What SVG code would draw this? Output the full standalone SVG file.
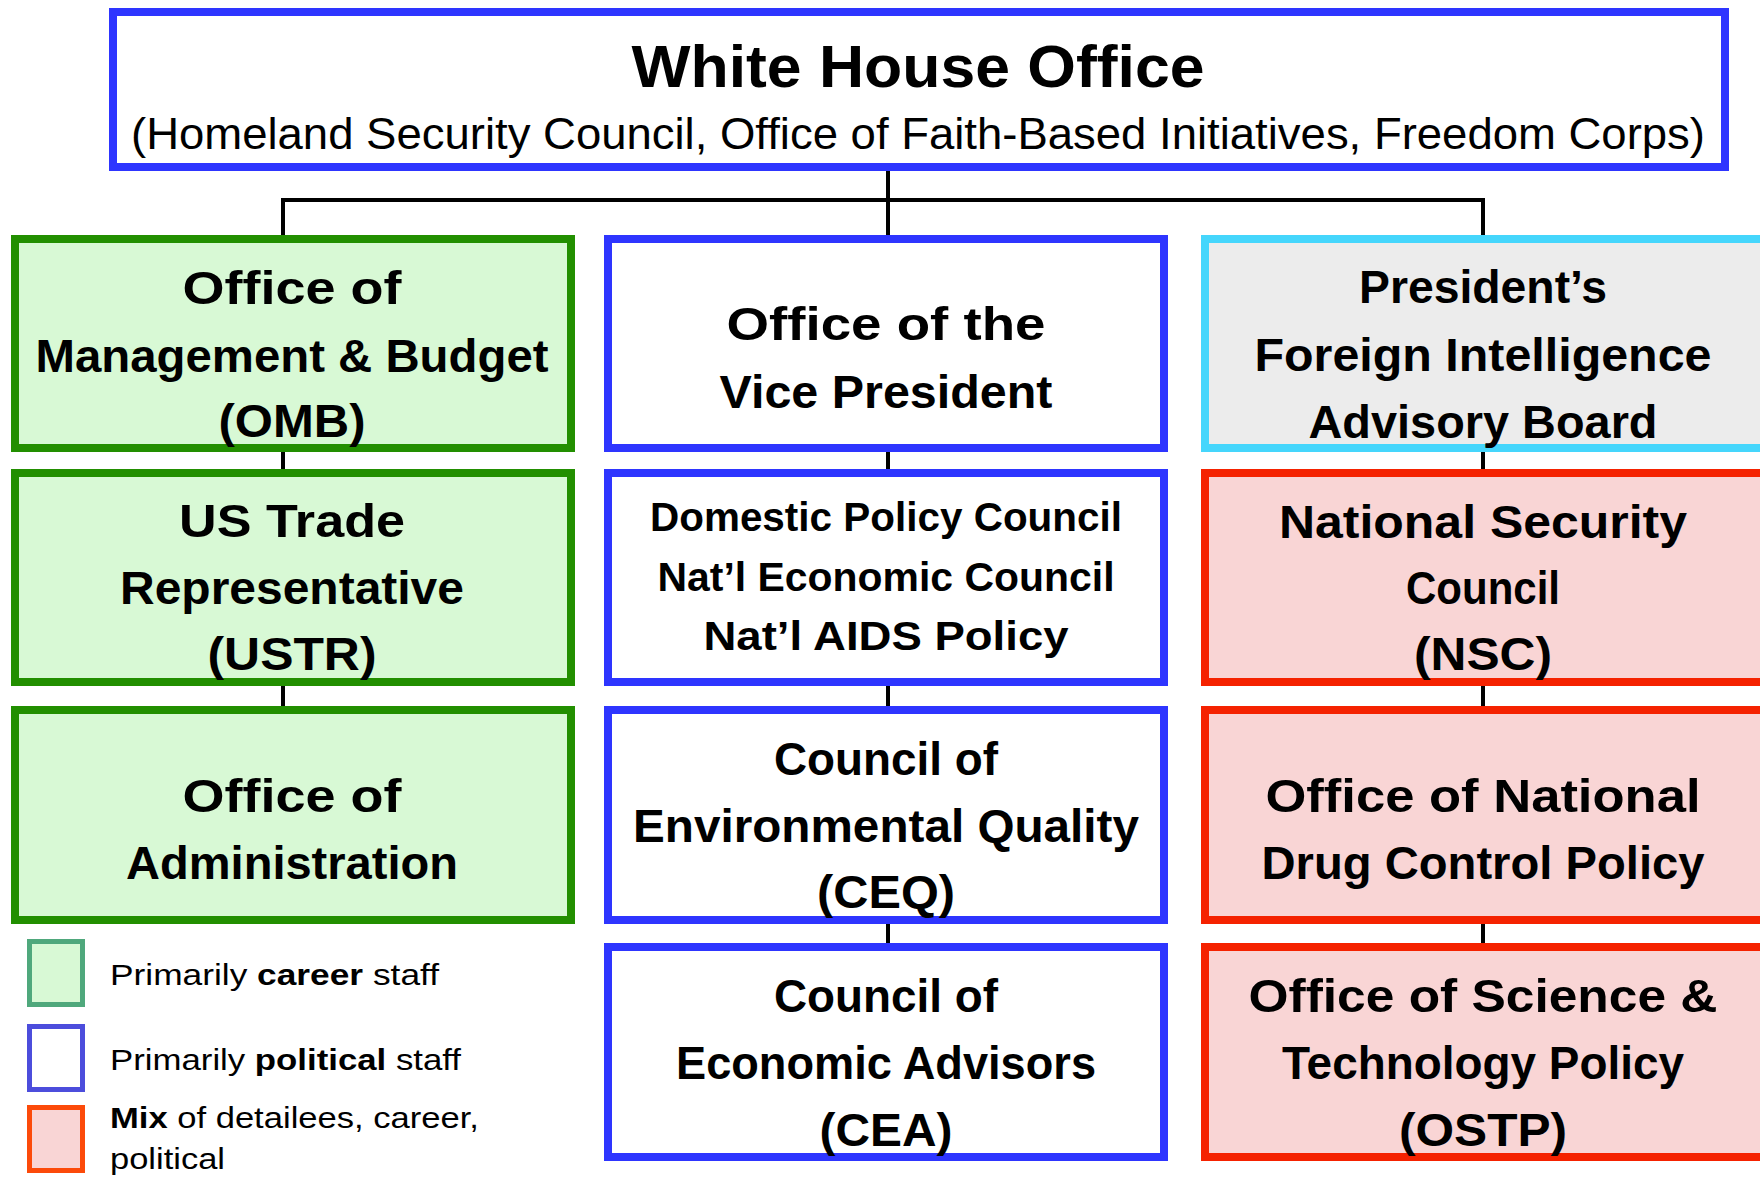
<svg xmlns="http://www.w3.org/2000/svg" width="1760" height="1178" viewBox="0 0 1760 1178">
<style>
text{font-family:"Liberation Sans","DejaVu Sans",sans-serif;fill:#000;}
.t{font-size:46px;font-weight:bold;text-anchor:middle;}
.s{font-size:41px;font-weight:bold;text-anchor:middle;}
.lg{font-size:30px;}
.b{font-weight:bold;}
.box{stroke-width:8;}
.career{fill:#d8f9d5;stroke:#228f00;}
.political{fill:#ffffff;stroke:#2e35ff;}
.mix{fill:#f9d5d5;stroke:#f52200;}
.pfiab{fill:#ececec;stroke:#45d6fc;}
.conn{stroke:#000;stroke-width:4;fill:none;}
</style>
<rect width="1760" height="1178" fill="#ffffff"/>
<g id="connectors">
<path class="conn" d="M888,171 V947"/>
<path class="conn" d="M283,236 V200 H1483 V236"/>
<path class="conn" d="M283,236 V710"/>
<path class="conn" d="M1483,236 V947"/>
</g>
<g id="white-house-office">
<rect class="box political" x="113" y="12" width="1612" height="155"/>
<text x="918" y="87" style="font-size:60px;font-weight:bold;text-anchor:middle" textLength="573" lengthAdjust="spacingAndGlyphs">White House Office</text>
<text x="918" y="149" style="font-size:44px;text-anchor:middle" textLength="1574" lengthAdjust="spacingAndGlyphs">(Homeland Security Council, Office of Faith-Based Initiatives, Freedom Corps)</text>
</g>
<g id="omb">
<rect class="box career" x="15" y="239" width="556" height="209"/>
<text class="t" x="292" y="304" textLength="219" lengthAdjust="spacingAndGlyphs">Office of</text>
<text class="t" x="292" y="372" textLength="513" lengthAdjust="spacingAndGlyphs">Management &amp; Budget</text>
<text class="t" x="292" y="437" textLength="147" lengthAdjust="spacingAndGlyphs">(OMB)</text>
</g>
<g id="ustr">
<rect class="box career" x="15" y="473" width="556" height="209"/>
<text class="t" x="292" y="537" textLength="226" lengthAdjust="spacingAndGlyphs">US Trade</text>
<text class="t" x="292" y="604" textLength="344" lengthAdjust="spacingAndGlyphs">Representative</text>
<text class="t" x="292" y="670" textLength="169" lengthAdjust="spacingAndGlyphs">(USTR)</text>
</g>
<g id="office-of-administration">
<rect class="box career" x="15" y="710" width="556" height="210"/>
<text class="t" x="292" y="812" textLength="219" lengthAdjust="spacingAndGlyphs">Office of</text>
<text class="t" x="292" y="879" textLength="332" lengthAdjust="spacingAndGlyphs">Administration</text>
</g>
<g id="ovp">
<rect class="box political" x="608" y="239" width="556" height="209"/>
<text class="t" x="886" y="340" textLength="319" lengthAdjust="spacingAndGlyphs">Office of the</text>
<text class="t" x="886" y="408" textLength="333" lengthAdjust="spacingAndGlyphs">Vice President</text>
</g>
<g id="policy-councils">
<rect class="box political" x="608" y="473" width="556" height="209"/>
<text class="s" x="886" y="531" textLength="472" lengthAdjust="spacingAndGlyphs">Domestic Policy Council</text>
<text class="s" x="886" y="591" textLength="457" lengthAdjust="spacingAndGlyphs">Nat’l Economic Council</text>
<text class="s" x="886" y="650" textLength="365" lengthAdjust="spacingAndGlyphs">Nat’l AIDS Policy</text>
</g>
<g id="ceq">
<rect class="box political" x="608" y="710" width="556" height="210"/>
<text class="t" x="886" y="775" textLength="224" lengthAdjust="spacingAndGlyphs">Council of</text>
<text class="t" x="886" y="842" textLength="506" lengthAdjust="spacingAndGlyphs">Environmental Quality</text>
<text class="t" x="886" y="908" textLength="138" lengthAdjust="spacingAndGlyphs">(CEQ)</text>
</g>
<g id="cea">
<rect class="box political" x="608" y="947" width="556" height="210"/>
<text class="t" x="886" y="1012" textLength="224" lengthAdjust="spacingAndGlyphs">Council of</text>
<text class="t" x="886" y="1079" textLength="420" lengthAdjust="spacingAndGlyphs">Economic Advisors</text>
<text class="t" x="886" y="1146" textLength="133" lengthAdjust="spacingAndGlyphs">(CEA)</text>
</g>
<g id="pfiab">
<rect class="box pfiab" x="1205" y="239" width="560" height="209"/>
<text class="t" x="1483" y="303" textLength="248" lengthAdjust="spacingAndGlyphs">President’s</text>
<text class="t" x="1483" y="371" textLength="457" lengthAdjust="spacingAndGlyphs">Foreign Intelligence</text>
<text class="t" x="1483" y="438" textLength="349" lengthAdjust="spacingAndGlyphs">Advisory Board</text>
</g>
<g id="nsc">
<rect class="box mix" x="1205" y="473" width="560" height="209"/>
<text class="t" x="1483" y="538" textLength="408" lengthAdjust="spacingAndGlyphs">National Security</text>
<text class="t" x="1483" y="604" textLength="154" lengthAdjust="spacingAndGlyphs">Council</text>
<text class="t" x="1483" y="670" textLength="138" lengthAdjust="spacingAndGlyphs">(NSC)</text>
</g>
<g id="ondcp">
<rect class="box mix" x="1205" y="710" width="560" height="210"/>
<text class="t" x="1483" y="812" textLength="435" lengthAdjust="spacingAndGlyphs">Office of National</text>
<text class="t" x="1483" y="879" textLength="443" lengthAdjust="spacingAndGlyphs">Drug Control Policy</text>
</g>
<g id="ostp">
<rect class="box mix" x="1205" y="947" width="560" height="210"/>
<text class="t" x="1483" y="1012" textLength="469" lengthAdjust="spacingAndGlyphs">Office of Science &amp;</text>
<text class="t" x="1483" y="1079" textLength="402" lengthAdjust="spacingAndGlyphs">Technology Policy</text>
<text class="t" x="1483" y="1146" textLength="168" lengthAdjust="spacingAndGlyphs">(OSTP)</text>
</g>
<g id="legend">
<rect x="29.5" y="941.5" width="53" height="63" fill="#d8f9d5" stroke="#4fa87c" stroke-width="5"/>
<rect x="29.5" y="1026.5" width="53" height="63" fill="#ffffff" stroke="#4c4ddc" stroke-width="5"/>
<rect x="29.5" y="1107.5" width="53" height="63" fill="#f9d5d5" stroke="#fc4a0a" stroke-width="5"/>
<text class="lg" x="110" y="985" textLength="329" lengthAdjust="spacingAndGlyphs">Primarily <tspan class="b">career</tspan> staff</text>
<text class="lg" x="110" y="1070" textLength="351" lengthAdjust="spacingAndGlyphs">Primarily <tspan class="b">political</tspan> staff</text>
<text class="lg" x="110" y="1128" textLength="369" lengthAdjust="spacingAndGlyphs"><tspan class="b">Mix</tspan> of detailees, career,</text>
<text class="lg" x="110" y="1169" textLength="115" lengthAdjust="spacingAndGlyphs">political</text>
</g>
</svg>
